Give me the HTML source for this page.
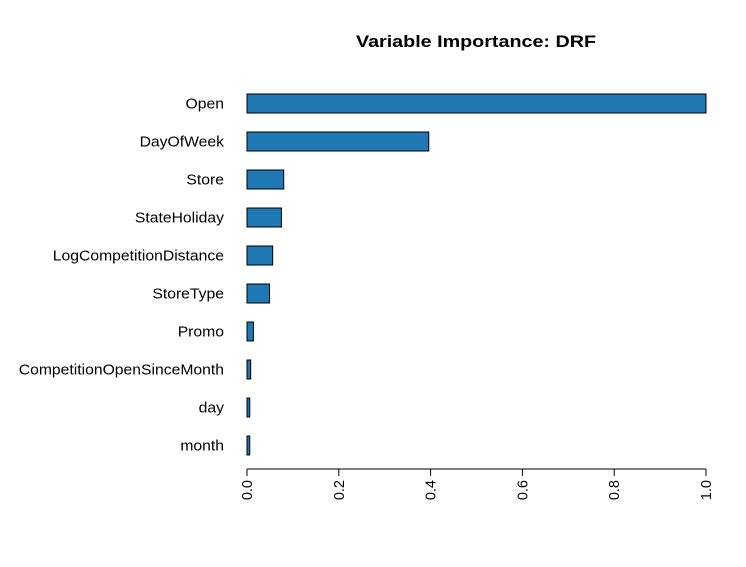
<!DOCTYPE html>
<html><head><meta charset="utf-8"><style>
body{margin:0;background:#fff}
svg{display:block;font-family:"Liberation Sans",Arial,sans-serif}
</style></head><body>
<svg id="chart" width="746" height="567" viewBox="0 0 746 567">
<rect width="746" height="567" fill="#fff"/>
<text x="476" y="47" text-anchor="middle" font-size="17" font-weight="bold" textLength="240" lengthAdjust="spacingAndGlyphs">Variable Importance: DRF</text>
<g id="bars"></g><g id="axis"></g>
</svg>
<script>
const categories=["Open","DayOfWeek","Store","StateHoliday","LogCompetitionDistance","StoreType","Promo","CompetitionOpenSinceMonth","day","month"];
const values=[1.0,0.396,0.080,0.075,0.056,0.049,0.014,0.008,0.006,0.006];
const ticks=[0,0.2,0.4,0.6,0.8,1.0];
const tickLabels=["0.0","0.2","0.4","0.6","0.8","1.0"];
const NS="http://www.w3.org/2000/svg";
const x0=247,x1=706;
const xs=v=>x0+v*(x1-x0);
const ys=i=>94+i*38;
const bh=19;
function mk(t,a,p){const e=document.createElementNS(NS,t);for(const k in a)e.setAttribute(k,a[k]);p.appendChild(e);return e;}
const bg=document.getElementById('bars'),ag=document.getElementById('axis');
categories.forEach((c,i)=>{
 const r=mk('rect',{x:xs(0),y:ys(i),width:xs(values[i])-xs(0),height:bh,fill:'#1f77b4',stroke:'#000','stroke-width':1},bg);
 
 
 const t=mk('text',{x:224,y:ys(i)+bh/2+5,'text-anchor':'end','font-size':14.5,'transform':`translate(224,0) scale(1.085,1) translate(-224,0)`},bg);
 t.textContent=c;
 
 
});
const ax=mk('line',{x1:xs(0),x2:xs(1),y1:469,y2:469,stroke:'#000'},ag);


ticks.forEach((v,i)=>{
 const l=mk('line',{x1:xs(v),x2:xs(v),y1:469,y2:476,stroke:'#000'},ag);
 
 
 const t=mk('text',{transform:`translate(${xs(v)+5},480) rotate(-90)`,'text-anchor':'end','font-size':14.5},ag);
 t.textContent=tickLabels[i];
 
 
});
</script>
</body></html>
